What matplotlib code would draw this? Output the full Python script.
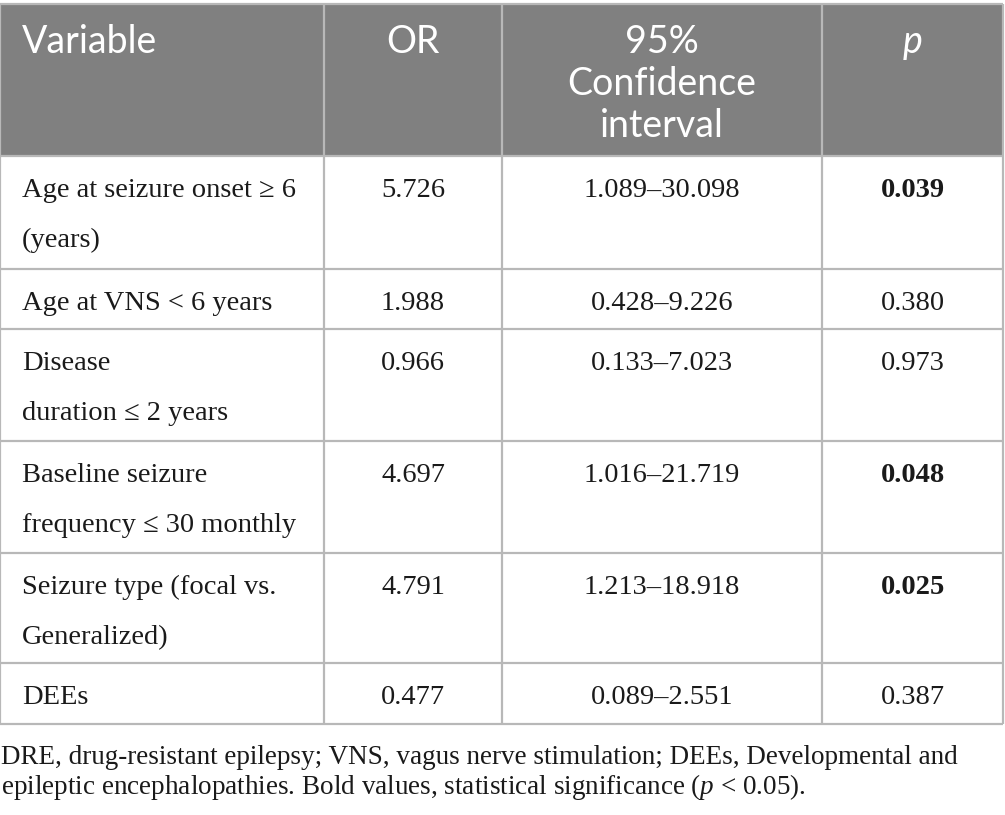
import matplotlib
matplotlib.use("Agg")
import matplotlib.pyplot as plt

# table contents
headers = ["Variable", "OR", "95%\nConfidence\ninterval", "p"]
variables = ["Age at seizure onset \u2265 6\n(years)",
             "Age at VNS < 6 years",
             "Disease\nduration \u2264 2 years",
             "Baseline seizure\nfrequency \u2264 30 monthly",
             "Seizure type (focal vs.\nGeneralized)",
             "DEEs"]
odds_ratios = ["5.726", "1.988", "0.966", "4.697", "4.791", "0.477"]
conf_intervals = ["1.089\u201330.098", "0.428\u20139.226", "0.133\u20137.023",
                  "1.016\u201321.719", "1.213\u201318.918", "0.089\u20132.551"]
p_values = ["0.039", "0.380", "0.973", "0.048", "0.025", "0.387"]
significant = [True, False, False, True, True, False]
footnote = ["DRE, drug-resistant epilepsy; VNS, vagus nerve stimulation; DEEs, Developmental and",
            "epileptic encephalopathies. Bold values, statistical significance ($p$ < 0.05)."]

plt.rcParams["mathtext.fontset"] = "custom"
plt.rcParams["mathtext.it"] = "Liberation Serif:italic"
plt.rcParams["mathtext.rm"] = "Liberation Serif"

# layout in pixels
W, H = 1005, 815
col_edges = [0, 324, 502, 822, 1003]
row_edges = [4, 156, 269, 329, 441, 553, 663, 724]
header_bg = "#808080"
grid_col = "#b8b8b8"
serif = "Liberation Serif"
sans = "Lato"

fig = plt.figure(figsize=(W / 100, H / 100), dpi=100)
ax = fig.add_axes([0, 0, 1, 1])
ax.set_xlim(0, W)
ax.set_ylim(H, 0)
ax.axis("off")

# header background
ax.fill_between([col_edges[0], col_edges[-1]], row_edges[0], row_edges[1], color=header_bg, lw=0)

# grid lines
for y in row_edges:
    ax.plot([col_edges[0], col_edges[-1]], [y, y], color=grid_col, lw=1.6, solid_capstyle="butt")
for x in col_edges:
    ax.plot([x, x], [row_edges[0], row_edges[-1]], color=grid_col, lw=1.6, solid_capstyle="butt")

# header text
head_gap = 42
for j, h in enumerate(headers):
    lines = h.split("\n")
    for k, line in enumerate(lines):
        if j == 0:
            x, ha = 22, "left"
        else:
            x, ha = (col_edges[j] + col_edges[j + 1]) / 2, "center"
        ax.text(x, row_edges[0] + 49 + k * head_gap, line, ha=ha, va="baseline",
                color="white", fontsize=27, family=sans,
                style="italic" if h == "p" else "normal")

# body text
body_gap = 50
for i in range(len(variables)):
    top = row_edges[i + 1]
    for k, line in enumerate(variables[i].split("\n")):
        ax.text(22, top + 41 + k * body_gap, line, ha="left", va="baseline",
                color="#1a1a1a", fontsize=20.5, family=serif)
    cells = [odds_ratios[i], conf_intervals[i], p_values[i]]
    for j, val in enumerate(cells):
        cx = (col_edges[j + 1] + col_edges[j + 2]) / 2
        bold = (j == 2 and significant[i])
        ax.text(cx, top + 41, val, ha="center", va="baseline", color="#1a1a1a",
                fontsize=20.5, family=serif, weight="bold" if bold else "normal")

# footnote
for k, line in enumerate(footnote):
    ax.text(1, 764 + k * 30, line, ha="left", va="baseline", color="#1a1a1a",
            fontsize=19.5, family=serif)

fig.savefig("out.png", dpi=100)
